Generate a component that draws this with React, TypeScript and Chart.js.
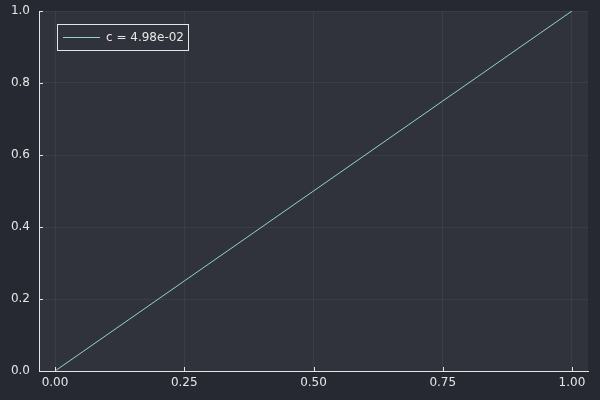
import React, { useEffect, useRef } from "react";
import { Chart, registerables } from "chart.js";

Chart.register(...registerables);

const xValues = [0, 0.25, 0.5, 0.75, 1];
const yValues = [0, 0.25, 0.5, 0.75, 1];
const seriesLabel = "c = 4.98e-02";
const xTicks = [0, 0.25, 0.5, 0.75, 1];
const yTicks = [0, 0.2, 0.4, 0.6, 0.8, 1];

const OUTER_BG = "#262932";
const PLOT_BG = "#30333c";
const LINE = "#8fd3cc";
const TEXT = "#e6e6e6";
const FONT = "DejaVu Sans";

const decorPlugin = {
  id: "decor",
  beforeDraw(chart: any) {
    const { ctx, chartArea: a } = chart;
    ctx.save();
    ctx.fillStyle = OUTER_BG;
    ctx.fillRect(0, 0, chart.width, chart.height);
    ctx.fillStyle = PLOT_BG;
    ctx.fillRect(a.left, a.top, a.right - a.left, a.bottom - a.top);
    ctx.restore();
  },
  afterDraw(chart: any) {
    const { ctx, chartArea: a, scales } = chart;
    ctx.save();
    ctx.strokeStyle = TEXT;
    ctx.lineWidth = 1;
    xTicks.forEach((t) => {
      const x = Math.round(scales.x.getPixelForValue(t)) + 0.5;
      ctx.beginPath();
      ctx.moveTo(x, a.bottom);
      ctx.lineTo(x, a.bottom - 4);
      ctx.stroke();
    });
    yTicks.forEach((t) => {
      const y = Math.round(scales.y.getPixelForValue(t)) + 0.5;
      ctx.beginPath();
      ctx.moveTo(a.left, y);
      ctx.lineTo(a.left + 4, y);
      ctx.stroke();
    });
    const lx = 57.5, ly = 24.5, lw = 131, lh = 26;
    ctx.fillStyle = PLOT_BG;
    ctx.fillRect(lx, ly, lw, lh);
    ctx.strokeStyle = TEXT;
    ctx.strokeRect(lx, ly, lw, lh);
    ctx.strokeStyle = LINE;
    ctx.beginPath();
    ctx.moveTo(63, ly + lh / 2);
    ctx.lineTo(100, ly + lh / 2);
    ctx.stroke();
    ctx.fillStyle = TEXT;
    ctx.font = `12px "${FONT}"`;
    ctx.textBaseline = "middle";
    ctx.textAlign = "left";
    ctx.fillText(seriesLabel, 106, ly + lh / 2 + 0.5);
    ctx.restore();
  },
};

export default function App() {
  const ref = useRef<HTMLCanvasElement>(null);
  useEffect(() => {
    document.body.style.margin = "0";
    const chart = new Chart(ref.current!, {
      type: "line",
      data: {
        datasets: [
          {
            label: seriesLabel,
            data: xValues.map((x, i) => ({ x, y: yValues[i] })),
            borderColor: LINE,
            borderWidth: 1,
            pointRadius: 0,
            tension: 0,
          },
        ],
      },
      options: {
        animation: false,
        responsive: false,
        maintainAspectRatio: false,
        layout: { padding: { top: 11, right: 12, left: 0, bottom: 0 } },
        plugins: { legend: { display: false }, tooltip: { enabled: false } },
        scales: {
          x: {
            type: "linear",
            min: -0.031,
            max: 1.031,
            afterBuildTicks: (s: any) => {
              s.ticks = xTicks.map((v) => ({ value: v }));
            },
            afterFit: (s: any) => {
              s.height = 29;
              s.paddingLeft = 0;
              s.paddingRight = 0;
            },
            ticks: {
              color: TEXT,
              font: { family: FONT, size: 12 },
              padding: 5,
              maxRotation: 0,
              callback: (v: any) => Number(v).toFixed(2),
            },
            grid: { color: "rgba(255,255,255,0.05)", drawTicks: false },
            border: { color: TEXT, width: 1 },
          },
          y: {
            type: "linear",
            min: 0,
            max: 1,
            afterBuildTicks: (s: any) => {
              s.ticks = yTicks.map((v) => ({ value: v }));
            },
            afterFit: (s: any) => {
              s.width = 39;
              s.paddingTop = 0;
              s.paddingBottom = 0;
            },
            ticks: {
              color: TEXT,
              font: { family: FONT, size: 12 },
              padding: 9,
              callback: (v: any) => Number(v).toFixed(1),
            },
            grid: { color: "rgba(255,255,255,0.05)", drawTicks: false },
            border: { color: TEXT, width: 1 },
          },
        },
      },
      plugins: [decorPlugin],
    });
    return () => chart.destroy();
  }, []);
  return <canvas ref={ref} width={600} height={400} style={{ display: "block" }} />;
}
